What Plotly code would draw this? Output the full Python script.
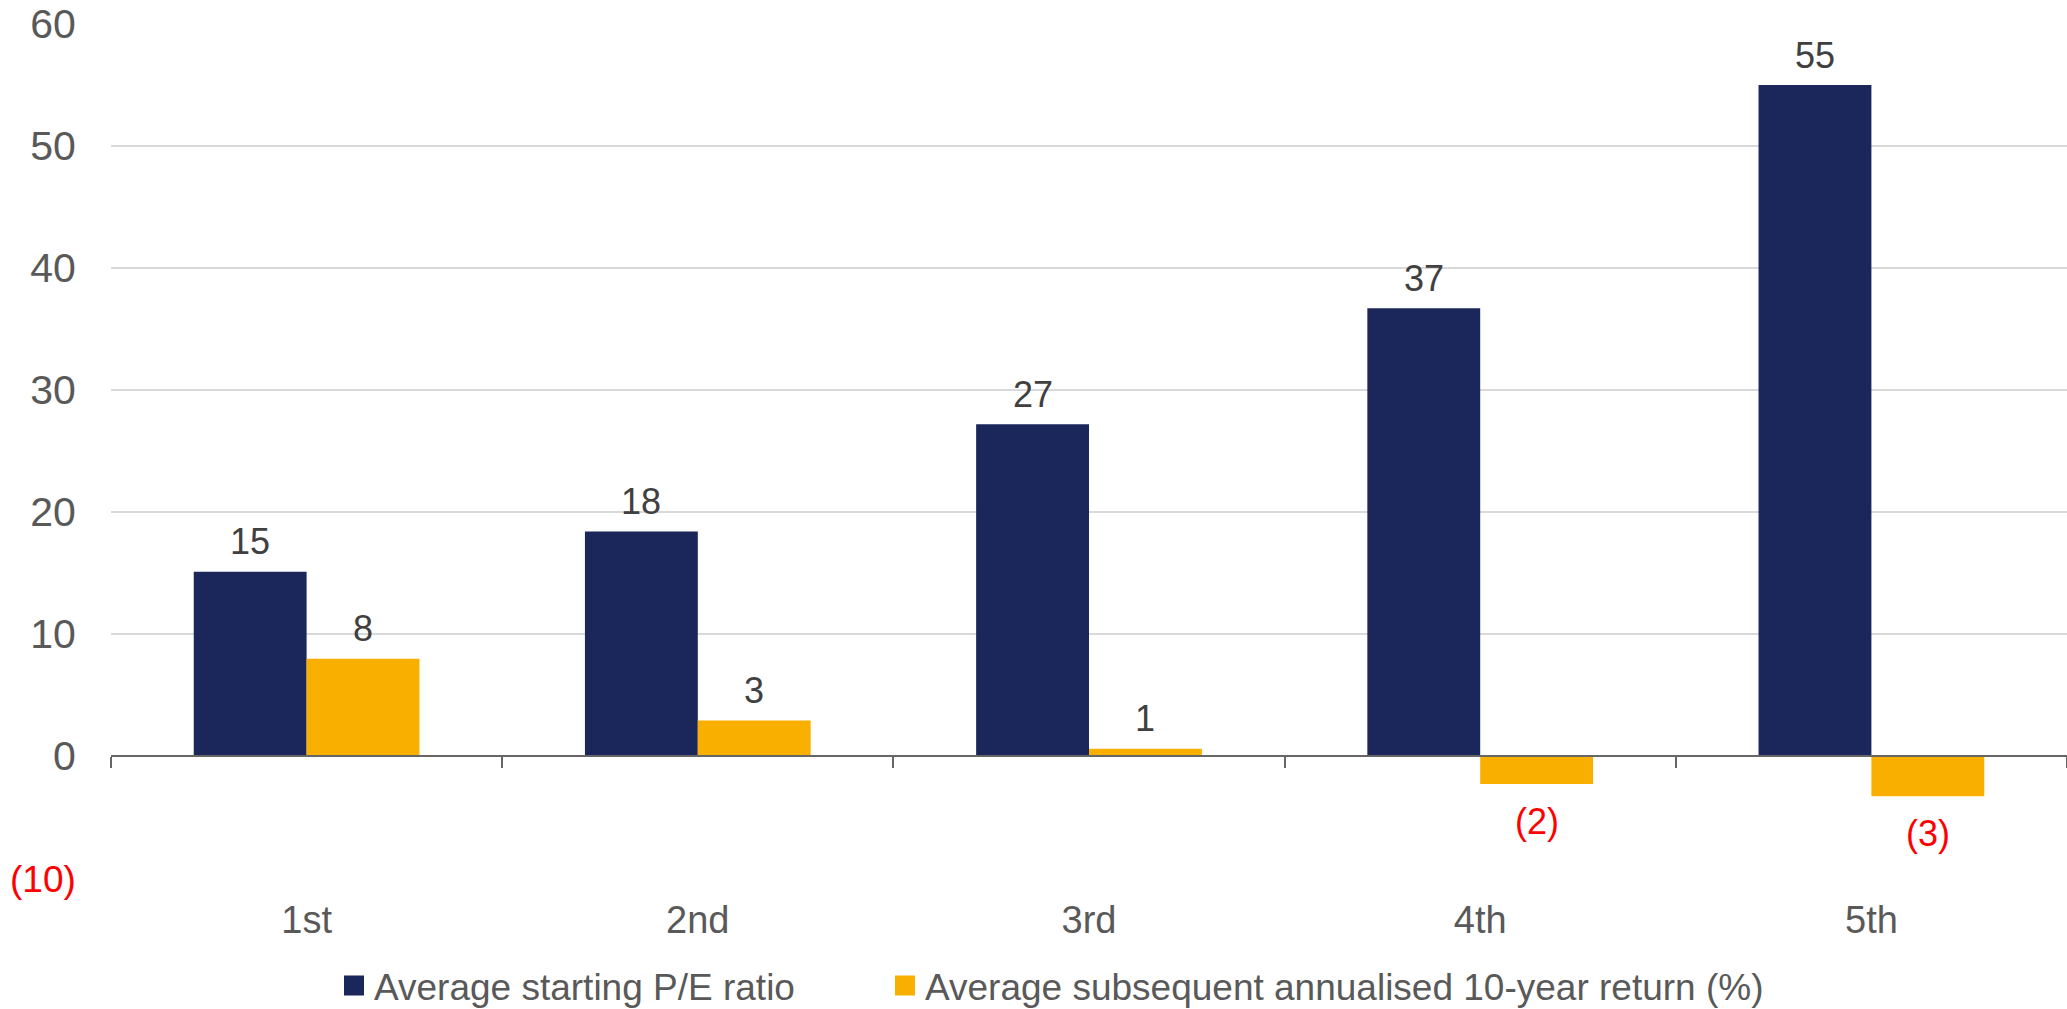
import plotly.graph_objects as go

# Quintiles of starting valuation
categories = ["1st", "2nd", "3rd", "4th", "5th"]
pe_ratio = [15.1, 18.4, 27.2, 36.7, 55.0]
ten_year_return = [7.97, 2.9, 0.6, -2.3, -3.3]

series_names = ["Average starting P/E ratio", "Average subsequent annualised 10-year return (%)"]

y_tick_vals = [-10, 0, 10, 20, 30, 40, 50, 60]
y_tick_text = ['<span style="color:#FF0000;font-size:37px">(10)</span>', "0", "10", "20", "30", "40", "50", "60"]

NAVY = "#1B265A"
ORANGE = "#F9AF00"
GREY = "#595959"
LABEL = "#404040"
FONT = "Liberation Sans, Arial, sans-serif"
BARGAP = 0.423


def fmt(v):
    # negatives shown in parentheses
    return f"({abs(v):.0f})" if v < 0 else f"{v:.0f}"


fig = go.Figure()
series = [(series_names[0], pe_ratio, NAVY, "legend"), (series_names[1], ten_year_return, ORANGE, "legend2")]
for name, vals, colour, _ in series:
    fig.add_trace(go.Bar(
        name=name, x=categories, y=vals,
        marker=dict(color=colour, line=dict(width=0)),
        showlegend=False,
    ))

# legend entries with larger square swatches, one legend box per series
for name, _, colour, lg in series:
    fig.add_trace(go.Scatter(
        name=name, x=[None], y=[None], mode="markers",
        marker=dict(symbol="square", size=16, color=colour, line=dict(color=colour, width=4)),
        showlegend=True, hoverinfo="skip", legend=lg,
    ))

# carrier for the zero-level category axis with boundary ticks
fig.add_trace(go.Scatter(
    x=categories, y=[0] * len(categories), xaxis="x2",
    mode="lines", line=dict(width=0), opacity=0,
    showlegend=False, hoverinfo="skip",
))

# value labels above positive bars, below negative ones
half = (1 - BARGAP) / 4
annotations = []
for k, (name, vals, colour, _) in enumerate(series):
    offset = -half if k == 0 else half
    for i, v in enumerate(vals):
        annotations.append(dict(
            x=i + offset, y=v, xref="x", yref="y",
            text=fmt(v), showarrow=False,
            xanchor="center", yanchor="middle",
            yshift=30 if v >= 0 else -37,
            font=dict(size=36, family=FONT, color="#FF0000" if v < 0 else LABEL),
        ))

legend_common = dict(
    orientation="h", xref="container", yref="container",
    xanchor="left", yanchor="middle", y=0.0228,
    font=dict(size=37, color=GREY), itemwidth=30, bgcolor="rgba(0,0,0,0)",
)

fig.update_layout(
    width=2067, height=1009,
    margin=dict(l=111, r=0, t=24, b=131),
    paper_bgcolor="white", plot_bgcolor="white",
    font=dict(family=FONT, size=36, color=GREY),
    barmode="group", bargap=BARGAP, bargroupgap=0,
    showlegend=True,
    legend=dict(x=334 / 2067, **legend_common),
    legend2=dict(x=885 / 2067, **legend_common),
    annotations=annotations,
    xaxis=dict(
        type="category", categoryorder="array", categoryarray=categories,
        showgrid=False, showline=False, zeroline=False,
        ticks="outside", ticklen=8, tickcolor="rgba(0,0,0,0)",
        tickfont=dict(size=38, color=GREY),
        range=[-0.5, 4.5],
    ),
    xaxis2=dict(
        type="category", categoryorder="array", categoryarray=categories,
        overlaying="x", matches="x", anchor="free", position=1 / 7,
        showline=True, linecolor="#666666", linewidth=2,
        ticks="outside", tickson="boundaries", ticklen=11, tickwidth=2, tickcolor="#666666",
        showticklabels=False, showgrid=False, zeroline=False,
    ),
    yaxis=dict(
        range=[-10, 60], tickvals=y_tick_vals, ticktext=y_tick_text,
        showgrid=True, gridcolor="#D9D9D9", gridwidth=2,
        zeroline=False, showline=False,
        ticks="outside", ticklen=26, tickcolor="rgba(0,0,0,0)",
        tickfont=dict(size=41, color=GREY),
    ),
)

fig.write_html("out.html")
